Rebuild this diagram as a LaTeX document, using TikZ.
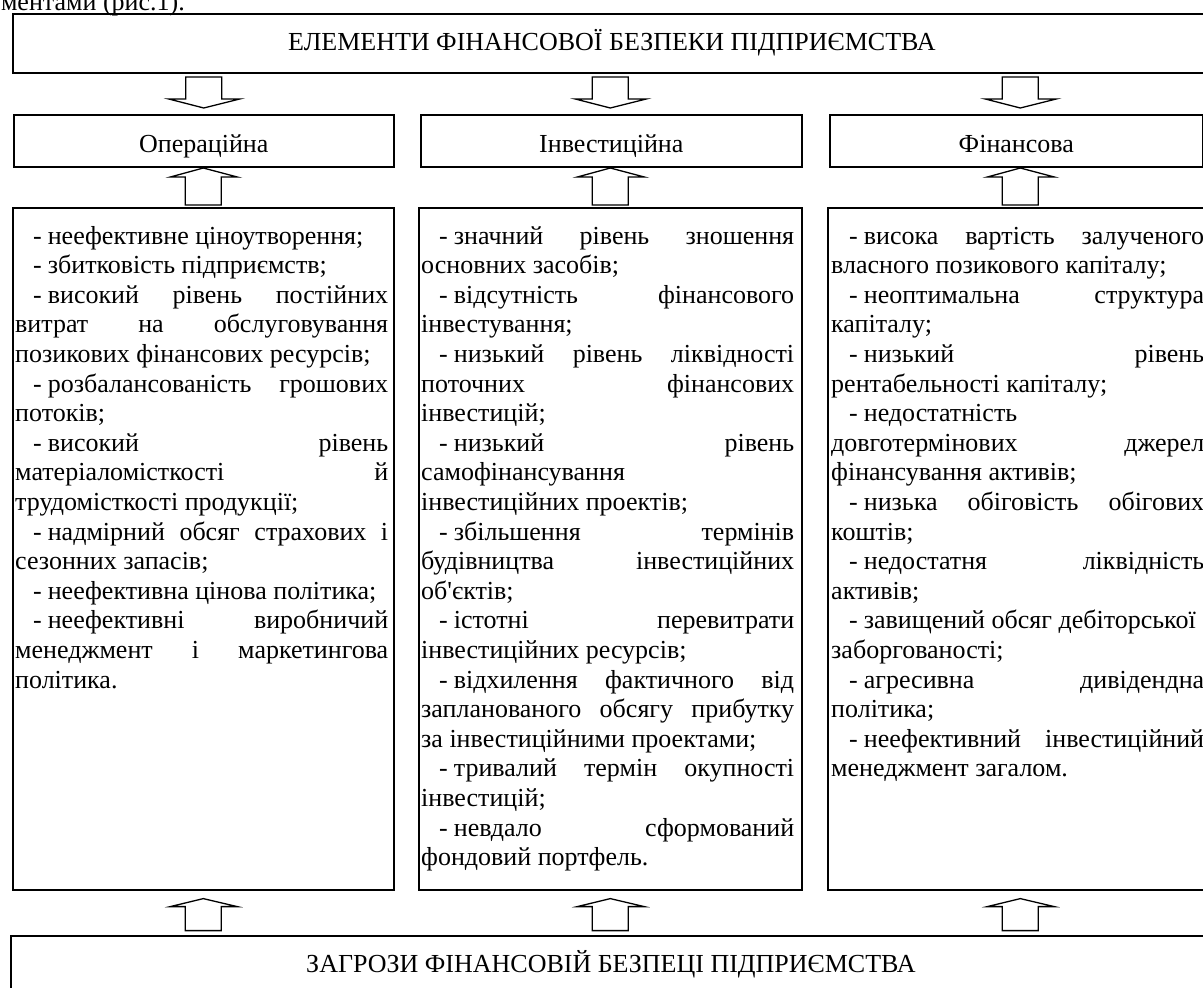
\documentclass[tikz,border=0pt]{standalone}
\usepackage{fontspec}
\setmainfont{Liberation Serif}
\usetikzlibrary{calc}
\newlength\tw \setlength\tw{373pt}
\newcommand\jl[1]{\hbox to \tw{#1}}
\newcommand\lastl[1]{\hbox to \tw{#1\hfil}}
\newcommand\dd{\kern18pt-\kern6pt}
\newcommand\colt[1]{\vtop{\fontsize{26pt}{29.6pt}\selectfont\baselineskip=29.6pt\lineskiplimit=-50pt #1}}
\tikzset{
  box/.style={draw, line width=1.6pt, inner sep=0pt, anchor=north west},
  lbl/.style={font=\fontsize{26pt}{30pt}\selectfont, inner sep=0pt, anchor=base},
  txt/.style={anchor=base west, inner sep=0pt},
  arr/.style={draw, line width=1.3pt, line join=miter, fill=white},
  darrow/.pic={\draw[arr] (-18,-31)--(18,-31)--(18,-9)--(36,-9)--(0,0)--(-35,-9)--(-18,-9)--cycle;},
  uarrowA/.pic={\draw[arr] (0,0)--(34,9)--(18,9)--(18,37)--(-18,37)--(-18,9)--(-33,9)--cycle;},
  uarrowB/.pic={\draw[arr] (0,0)--(34,8)--(18,8)--(18,32)--(-18,32)--(-18,8)--(-33,8)--cycle;}
}
\begin{document}
\begin{tikzpicture}[x=1pt,y=-1pt]
\useasboundingbox (0,0) rectangle (1203,988);
\node[lbl, anchor=base east] (cap) at (185,10) {ментами (рис.1).};
% top box
\node[box, minimum width=1200pt, minimum height=59pt] (top) at (12,13) {};
\node[lbl] (toptx) at (612,50) {ЕЛЕМЕНТИ ФІНАНСОВОЇ БЕЗПЕКИ ПІДПРИЄМСТВА};
% headers
\node[box, minimum width=380pt, minimum height=52pt] (oph) at (13,114) {};
\node[lbl] (ophtx) at (oph.center |- 0,152) {Операційна};
\node[box, minimum width=381pt, minimum height=52pt] (inh) at (420,114) {};
\node[lbl] (inhtx) at (inh.center |- 0,152) {Інвестиційна};
\node[box, minimum width=373pt, minimum height=52pt] (fih) at (829,114) {};
\node[lbl] (fihtx) at (fih.center |- 0,152) {Фінансова};
% text boxes
\node[box, minimum width=381pt, minimum height=682pt] (opt) at (12,207) {};
\node[box, minimum width=383pt, minimum height=682pt] (int) at (418,207) {};
\node[box, minimum width=385pt, minimum height=682pt] (fit) at (827,207) {};
% bottom box
\node[box, minimum width=1202pt, minimum height=56pt] (bot) at (10,935) {};
\node[lbl] (bottx) at (611,972) {ЗАГРОЗИ ФІНАНСОВІЙ БЕЗПЕЦІ ПІДПРИЄМСТВА};
% texts
\node[txt] (optx) at (15,244) {\colt{%
\lastl{\dd неефективне ціноутворення;}
\lastl{\dd збитковість підприємств;}
\jl{\dd високий рівень постійних}
\jl{витрат на обслуговування}
\lastl{позикових фінансових ресурсів;}
\jl{\dd розбалансованість грошових}
\lastl{потоків;}
\jl{\dd високий рівень}
\jl{матеріаломісткості й}
\lastl{трудомісткості продукції;}
\jl{\dd надмірний обсяг страхових і}
\lastl{сезонних запасів;}
\lastl{\dd неефективна цінова політика;}
\jl{\dd неефективні виробничий}
\jl{менеджмент і маркетингова}
\lastl{політика.}}};
\node[txt] (intx) at (421,244) {\colt{%
\jl{\dd значний рівень зношення}
\lastl{основних засобів;}
\jl{\dd відсутність фінансового}
\lastl{інвестування;}
\jl{\dd низький рівень ліквідності}
\jl{поточних фінансових}
\lastl{інвестицій;}
\jl{\dd низький рівень}
\lastl{самофінансування}
\lastl{інвестиційних проектів;}
\jl{\dd збільшення термінів}
\jl{будівництва інвестиційних}
\lastl{об\textquotesingle єктів;}
\jl{\dd істотні перевитрати}
\lastl{інвестиційних ресурсів;}
\jl{\dd відхилення фактичного від}
\jl{запланованого обсягу прибутку}
\lastl{за інвестиційними проектами;}
\jl{\dd тривалий термін окупності}
\lastl{інвестицій;}
\jl{\dd невдало сформований}
\lastl{фондовий портфель.}}};
\node[txt] (fitx) at (831,244) {\colt{%
\jl{\dd висока вартість залученого}
\lastl{власного позикового капіталу;}
\jl{\dd неоптимальна структура}
\lastl{капіталу;}
\jl{\dd низький рівень}
\lastl{рентабельності капіталу;}
\lastl{\dd недостатність}
\jl{довготермінових джерел}
\lastl{фінансування активів;}
\jl{\dd низька обіговість обігових}
\lastl{коштів;}
\jl{\dd недостатня ліквідність}
\lastl{активів;}
\lastl{\dd завищений обсяг дебіторської}
\lastl{заборгованості;}
\jl{\dd агресивна дивідендна}
\lastl{політика;}
\jl{\dd неефективний інвестиційний}
\lastl{менеджмент загалом.}}};
% arrows: elements -> headers
\pic at ([yshift=6pt]oph.north) {darrow};
\pic at ([yshift=6pt]int.north |- inh.north) {darrow};
\pic at ([yshift=6pt]fit.north |- fih.north) {darrow};
% arrows: text boxes -> headers
\pic at ([yshift=39pt]opt.north) {uarrowA};
\pic at ([yshift=39pt]int.north) {uarrowA};
\pic at ([yshift=39pt]fit.north) {uarrowA};
% arrows: threats -> text boxes
\pic at ([yshift=-8pt]opt.south) {uarrowB};
\pic at ([yshift=-8pt]int.south) {uarrowB};
\pic at ([yshift=-8pt]fit.south) {uarrowB};
\end{tikzpicture}
\end{document}
